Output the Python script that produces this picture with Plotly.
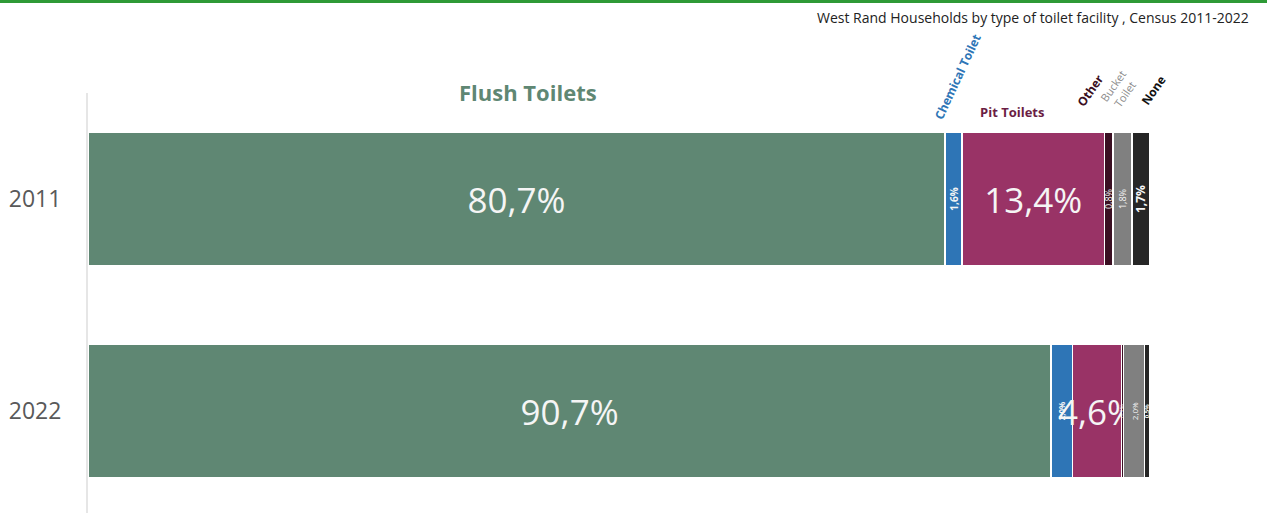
import plotly.graph_objects as go

years = ["2011", "2022"]
categories = ["Flush Toilets", "Chemical Toilet", "Pit Toilets", "Other", "Bucket Toilet", "None"]
flush = [80.7, 90.7]
chemical = [1.6, 2.0]
pit = [13.4, 4.6]
other = [0.8, 0.2]
bucket = [1.8, 2.0]
none_ = [1.7, 0.5]

series = [flush, chemical, pit, other, bucket, none_]
colors = ["#5f8773", "#2e75b6", "#993366", "#3a0f22", "#808080", "#262626"]
angles = [0, -90, 0, -90, -90, -90]
sizes = [[35, 35], [10, 8], [35, 35], [9, 6], [9, 8], [12, 6]]
bold = [False, True, False, False, False, True]

W, H = 1267, 513
L, R, T, B = 88, 7, 93, 0
pw, ph = W - L - R, H - T - B

def fmt(v):
    return f"{v:.1f}".replace(".", ",") + "%"

fig = go.Figure()
for name, vals, col, ang, sz, bd in zip(categories, series, colors, angles, sizes, bold):
    fig.add_trace(go.Bar(
        y=years, x=vals, orientation="h", name=name,
        marker=dict(color=col, line=dict(color="white", width=1.5)),
        text=[fmt(v) for v in vals], textposition="inside",
        insidetextanchor="middle", textangle=ang, constraintext="none",
        textfont=dict(color="#f5f5f5", size=sz,
                      family="Open Sans", weight=("bold" if bd else "normal")),
        hoverinfo="skip", cliponaxis=False,
    ))

def px(xp):
    return (xp - L) / pw

def py(yp):
    return (H - yp) / ph

annotations = [
    dict(text="West Rand Households by type of toilet facility , Census 2011-2022",
         x=px(1251), y=py(18), xanchor="right", yanchor="middle",
         font=dict(size=14, color="#222222", family="Open Sans")),
    dict(text="<b>Flush Toilets</b>", x=px(528), y=py(92), xanchor="center", yanchor="middle",
         font=dict(size=22, color="#5f8773", family="Open Sans")),
    dict(text="<b>Pit Toilets</b>", x=px(1012), y=py(112), xanchor="center", yanchor="middle",
         font=dict(size=13, color="#6b1e44", family="Open Sans")),
    dict(text="<b>Chemical Toilet</b>", x=px(958), y=py(77), xanchor="center", yanchor="middle",
         textangle=-65, font=dict(size=12, color="#2e75b6", family="Open Sans")),
    dict(text="<b>Other</b>", x=px(1090), y=py(90), xanchor="center", yanchor="middle",
         textangle=-55, font=dict(size=12, color="#3a0f22", family="Open Sans")),
    dict(text="Bucket<br>Toilet", x=px(1118), y=py(90), xanchor="center", yanchor="middle",
         textangle=-55, font=dict(size=11, color="#8c8c8c", family="Open Sans")),
    dict(text="<b>None</b>", x=px(1153), y=py(90), xanchor="center", yanchor="middle",
         textangle=-55, font=dict(size=12, color="#111111", family="Open Sans")),
]
for a in annotations:
    a.update(xref="paper", yref="paper", showarrow=False)

fig.update_layout(
    width=W, height=H,
    margin=dict(l=L, r=R, t=T, b=B),
    barmode="stack", bargap=0.368,
    showlegend=False,
    plot_bgcolor="white", paper_bgcolor="white",
    xaxis=dict(range=[0, pw / 10.62], visible=False, fixedrange=True),
    yaxis=dict(type="category", categoryorder="array", categoryarray=years,
               range=[1.481, -0.5], showgrid=False, showline=True,
               linecolor="#e6e6e6", linewidth=2, ticks="",
               ticklabelstandoff=20, fixedrange=True,
               tickfont=dict(size=23, color="#595959", family="Open Sans")),
    annotations=annotations,
    shapes=[dict(type="line", xref="paper", yref="paper",
                 x0=-L / pw, x1=(W - L) / pw, y0=py(1.5), y1=py(1.5),
                 line=dict(color="#2e9a36", width=3))],
)

fig.write_html("out.html", config={"displayModeBar": False},
               post_script="document.body.style.margin='0';document.body.style.overflow='hidden';")
